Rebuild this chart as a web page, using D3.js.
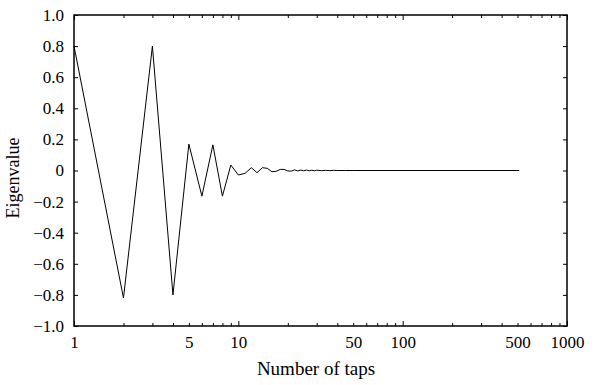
<!DOCTYPE html>
<html>
<head>
<meta charset="utf-8">
<script src="https://cdn.jsdelivr.net/npm/d3@7"></script>
<style>
  html, body { margin: 0; padding: 0; background: #fff; }
</style>
</head>
<body>
<svg id="chart" width="603" height="385"></svg>
<script>
// Eigenvalue versus number of filter taps
const taps = [1, 2, 3, 4, 5, 6, 7, 8, 9, 10, 11, 12, 13, 14, 15, 16, 17, 18, 19, 20,
              21, 22, 23, 24, 25, 26, 27, 28, 29, 30, 32, 34, 36, 38, 40, 45, 50, 512];
const eigenvalues = [0.80, -0.82, 0.80, -0.80, 0.17, -0.165, 0.165, -0.165, 0.035, -0.029,
                     -0.018, 0.018, -0.014, 0.018, 0.014, -0.008, -0.005, 0.007, 0.007, -0.003,
                     -0.004, 0.004, -0.003, 0.003, -0.002, 0.003, -0.002, 0.002, -0.002, 0.002,
                     -0.001, 0.001, -0.001, 0.001, 0, 0, 0, 0];
const xTickLabels = [1, 5, 10, 50, 100, 500, 1000];
const yTickLabels = [-1.0, -0.8, -0.6, -0.4, -0.2, 0, 0.2, 0.4, 0.6, 0.8, 1.0];

const FONT = "'Liberation Serif', 'Times New Roman', serif";
const svg = d3.select("#chart");
const plotL = 74, plotR = 567, plotT = 15, plotB = 326;

const x = d3.scaleLog().domain([1, 1000]).range([plotL, plotR]);
const y = d3.scaleLinear().domain([-1, 1]).range([plotB, plotT]);

// minor log ticks: 2..9 within each decade
const minorTicks = [];
[1, 10, 100].forEach(d => { for (let k = 2; k <= 9; k++) minorTicks.push(d * k); });
const majorTicks = [1, 10, 100, 1000];

const fmtY = v => v === 0 ? "0" : d3.format(".1f")(v);

// shared styling for every axis group
function styleAxis(g) {
  g.select(".domain").remove();
  g.selectAll(".tick line").attr("stroke", "#000").attr("stroke-width", 1);
  g.selectAll(".tick text")
    .style("font-family", FONT)
    .style("font-size", "17px")
    .style("fill", "#000");
}

// bottom axis
svg.append("g").attr("transform", `translate(0,${plotB})`)
  .call(d3.axisBottom(x).tickValues(minorTicks).tickSize(-3).tickFormat(""))
  .call(styleAxis);
svg.append("g").attr("transform", `translate(0,${plotB})`)
  .call(d3.axisBottom(x).tickValues(majorTicks).tickSize(-5).tickFormat(""))
  .call(styleAxis);
svg.append("g").attr("transform", `translate(0,${plotB})`)
  .call(d3.axisBottom(x).tickValues(xTickLabels).tickSize(0).tickPadding(10).tickFormat(d3.format("d")))
  .call(styleAxis);

// top axis (mirrored ticks)
svg.append("g").attr("transform", `translate(0,${plotT})`)
  .call(d3.axisTop(x).tickValues(minorTicks).tickSize(-3).tickFormat(""))
  .call(styleAxis);
svg.append("g").attr("transform", `translate(0,${plotT})`)
  .call(d3.axisTop(x).tickValues(majorTicks).tickSize(-5).tickFormat(""))
  .call(styleAxis);

// left axis
svg.append("g").attr("transform", `translate(${plotL},0)`)
  .call(d3.axisLeft(y).tickValues(yTickLabels).tickSize(-4).tickPadding(10).tickFormat(fmtY))
  .call(styleAxis);

// right axis (mirrored ticks)
svg.append("g").attr("transform", `translate(${plotR},0)`)
  .call(d3.axisRight(y).tickValues(yTickLabels).tickSize(-4).tickFormat(""))
  .call(styleAxis);

// frame
svg.append("rect")
  .attr("x", plotL).attr("y", plotT)
  .attr("width", plotR - plotL).attr("height", plotB - plotT)
  .attr("fill", "none").attr("stroke", "#000").attr("stroke-width", 1.5);

// data line
const line = d3.line().x((d, i) => x(taps[i])).y(d => y(d));
svg.append("path")
  .datum(eigenvalues)
  .attr("d", line)
  .attr("fill", "none")
  .attr("stroke", "#000")
  .attr("stroke-width", 1);

// axis titles
svg.append("text")
  .attr("x", 316).attr("y", 375)
  .attr("text-anchor", "middle")
  .style("font-family", FONT).style("font-size", "19px")
  .text("Number of taps");
svg.append("text")
  .attr("transform", `translate(19,178) rotate(-90)`)
  .attr("text-anchor", "middle")
  .style("font-family", FONT).style("font-size", "18px")
  .text("Eigenvalue");
</script>
</body>
</html>
